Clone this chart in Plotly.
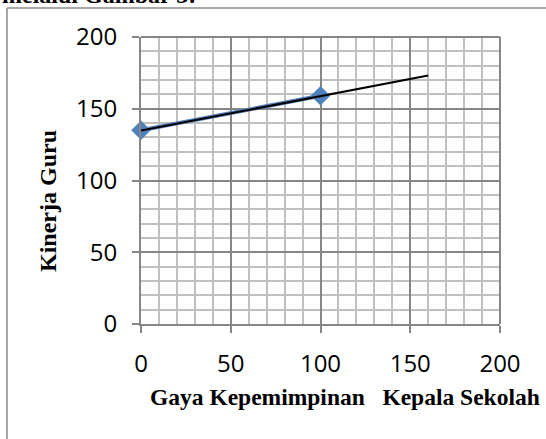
import plotly.graph_objects as go

# Data
x_vals = [0, 100]
y_vals = [135, 159]
trend_x = [0, 160]
trend_y = [134.8, 173.2]
x_ticks = [0, 50, 100, 150, 200]
y_ticks = [0, 50, 100, 150, 200]
x_title = "Gaya Kepemimpinan   Kepala Sekolah"
y_title = "Kinerja Guru"
top_text = "melalui Gambar 3:"

W, H = 546, 439
L, R, T, B = 141, 46, 37, 115
pw, ph = W - L - R, H - T - B

def px_x(p):
    return (p - L) / pw

def px_y(p):
    return 1 - (p - T) / ph

fig = go.Figure()
fig.add_trace(go.Scatter(
    x=x_vals, y=y_vals, mode="lines+markers",
    line=dict(color="#4F81BD", width=4),
    marker=dict(symbol="diamond", size=15, color="#4F81BD"),
    showlegend=False, hoverinfo="skip", cliponaxis=False))
fig.add_trace(go.Scatter(
    x=trend_x, y=trend_y, mode="lines",
    line=dict(color="black", width=2),
    showlegend=False, hoverinfo="skip"))

axis_common = dict(
    showline=True, linecolor="#868686", linewidth=2,
    ticks="outside", ticklen=7, tickcolor="#868686", tickwidth=2,
    showgrid=True, gridcolor="#868686", gridwidth=1.5,
    minor=dict(dtick=10, showgrid=True, gridcolor="#c0c0c0", gridwidth=1.5, ticks=""),
    zeroline=False, mirror=False,
    tickfont=dict(family="Open Sans", size=24, color="black"),
)

fig.update_layout(
    width=W, height=H,
    margin=dict(l=L, r=R, t=T, b=B, autoexpand=False),
    paper_bgcolor="white", plot_bgcolor="white",
    xaxis=dict(range=[0, 200], tickvals=x_ticks, ticklabelstandoff=10, **axis_common),
    yaxis=dict(range=[0, 200], tickvals=y_ticks, ticklabelstandoff=10, **axis_common),
    shapes=[
        dict(type="line", xref="paper", yref="paper",
             x0=px_x(500), x1=px_x(500), y0=px_y(37), y1=px_y(324),
             line=dict(color="#868686", width=2)),
        dict(type="line", xref="paper", yref="paper",
             x0=px_x(141), x1=px_x(500), y0=px_y(37), y1=px_y(37),
             line=dict(color="#868686", width=2)),
        dict(type="line", xref="paper", yref="paper",
             x0=px_x(7), x1=px_x(560), y0=px_y(8), y1=px_y(8),
             line=dict(color="#8a8a8a", width=1.5)),
        dict(type="line", xref="paper", yref="paper",
             x0=px_x(7), x1=px_x(7), y0=px_y(8), y1=px_y(460),
             line=dict(color="#8a8a8a", width=1.5)),
    ],
    annotations=[
        dict(text="<b>" + x_title + "</b>", xref="paper", yref="paper",
             x=px_x(345), y=px_y(397), xanchor="center", yanchor="middle",
             showarrow=False,
             font=dict(family="Liberation Serif", size=23.5, color="black")),
        dict(text="<b>" + y_title + "</b>", xref="paper", yref="paper",
             x=px_x(48), y=px_y(201), xanchor="center", yanchor="middle",
             textangle=-90, showarrow=False,
             font=dict(family="Liberation Serif", size=24, color="black")),
        dict(text="<b>" + top_text + "</b>", xref="paper", yref="paper",
             x=px_x(0), y=px_y(10), xanchor="left", yanchor="bottom",
             showarrow=False,
             font=dict(family="Liberation Serif", size=24, color="black")),
    ],
)

fig.write_html(
    "out.html",
    config={"displayModeBar": False},
    post_script="document.body.style.margin='0';document.body.style.padding='0';document.body.style.overflow='hidden';",
)
